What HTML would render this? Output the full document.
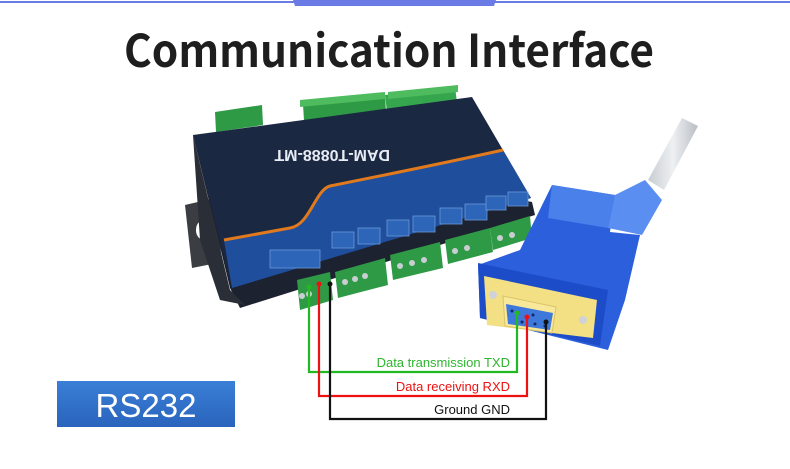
<!DOCTYPE html>
<html><head><meta charset="utf-8"><style>
html,body{margin:0;padding:0;background:#fff;}
svg{display:block}
</style></head><body>
<svg width="790" height="469" viewBox="0 0 790 469" xmlns="http://www.w3.org/2000/svg">
<defs>
<linearGradient id="rs" x1="0" y1="0" x2="0" y2="1"><stop offset="0" stop-color="#3a7fd6"/><stop offset="1" stop-color="#2a64bd"/></linearGradient>
<linearGradient id="cab" x1="0" y1="0" x2="1" y2="0"><stop offset="0" stop-color="#c8cdd3"/><stop offset="0.5" stop-color="#eef0f2"/><stop offset="1" stop-color="#b9bec4"/></linearGradient>
</defs>
<rect width="790" height="469" fill="#fff"/>
<rect x="0" y="1" width="790" height="2" fill="#6b7be6"/>
<polygon points="293,0 496,0 494,6 295,6" fill="#6b7be6"/>
<text x="389" y="67" text-anchor="middle" font-family="'Noto Sans CJK SC','Liberation Sans',sans-serif" font-weight="bold" font-size="45" fill="#1e1e1e" textLength="530" lengthAdjust="spacingAndGlyphs">Communication Interface</text>

<polygon points="185,205 215,198 222,262 192,268" fill="#3a3d42"/>
<ellipse cx="202" cy="230" rx="6" ry="9" fill="#fff"/>
<polygon points="193,135 230,288 240,308 535,215 532,202" fill="#1d2230"/>
<polygon points="193,135 230,290 245,305 220,300 200,240" fill="#2a2e36"/>
<polygon points="215,112 262,105 263,125 216,132" fill="#2e9a45"/>
<polygon points="303,104 385,95 386,112 304,121" fill="#2e9a45"/>
<polygon points="385,95 455,86 457,103 387,112" fill="#36a64e"/>
<polygon points="388,92 458,85 458,92 388,99" fill="#4dbb5e"/>
<polygon points="300,100 385,92 385,99 300,107" fill="#4dbb5e"/>
<polygon points="193,135 472,97 531,198 232,288" fill="#1b2842"/>
<path d="M232,288 L531,198 L503,150 C450,162 380,176 330,186 C315,190 310,225 290,228 L224,240 Z" fill="#1f4f9c"/>
<path d="M224,240 L290,228 C310,225 315,190 330,186 C380,176 450,162 503,150" fill="none" stroke="#e07a1c" stroke-width="3"/>
<g fill="#2d65b8" stroke="#6d98d8" stroke-width="0.8">
<rect x="332" y="232" width="22" height="16"/><rect x="358" y="228" width="22" height="16"/>
<rect x="387" y="220" width="22" height="16"/><rect x="413" y="216" width="22" height="16"/>
<rect x="440" y="208" width="22" height="16"/><rect x="465" y="204" width="22" height="16"/>
<rect x="486" y="196" width="20" height="14"/><rect x="508" y="192" width="20" height="14"/>
<rect x="270" y="250" width="50" height="18"/>
</g>
<text x="300" y="162" font-family="'Liberation Sans',sans-serif" font-weight="bold" font-size="16" fill="#e8ecf4" transform="rotate(180 345 156)">DAM-T0888-MT</text>
<polygon points="297,280 330,272 333,300 300,310" fill="#2f9a46"/>
<polygon points="335,272 385,258 388,285 338,298" fill="#2f9a46"/>
<polygon points="390,255 440,242 443,268 393,280" fill="#2f9a46"/>
<polygon points="445,240 490,228 493,252 448,264" fill="#2f9a46"/>
<polygon points="490,228 530,216 532,238 493,250" fill="#2f9a46"/>
<g fill="#c9ced2"><circle cx="302" cy="296" r="3"/><circle cx="309" cy="294" r="3"/><circle cx="345" cy="282" r="3"/><circle cx="355" cy="279" r="3"/><circle cx="365" cy="276" r="3"/><circle cx="400" cy="266" r="3"/><circle cx="412" cy="263" r="3"/><circle cx="424" cy="260" r="3"/><circle cx="455" cy="251" r="3"/><circle cx="467" cy="248" r="3"/><circle cx="500" cy="238" r="3"/><circle cx="512" cy="235" r="3"/></g>

<polygon points="648,180 682,118 698,126 664,190" fill="url(#cab)"/>
<polygon points="520,250 552,185 615,195 610,232 640,235 625,300 608,350 480,318 478,265" fill="#2b5fdc"/>
<polygon points="552,185 615,195 608,228 548,218" fill="#4a80ea"/>
<polygon points="615,195 645,180 662,200 642,235 608,228" fill="#5a8ef0"/>
<polygon points="478,263 608,290 600,346 480,318" fill="#1d4cc8"/>
<polygon points="484,276 597,300 593,338 487,325" fill="#f3df84"/>
<polygon points="503,296 556,307 552,333 505,326" fill="#f8e89a" stroke="#d9c46a"/>
<polygon points="506,304 553,313 550,330 508,324" fill="#3f78db"/>
<circle cx="493" cy="295" r="4" fill="#cfd3d8"/><circle cx="583" cy="320" r="4" fill="#cfd3d8"/>
<g fill="#0f2a66"><circle cx="512" cy="311" r="1.5"/><circle cx="533" cy="315" r="1.5"/><circle cx="522" cy="322" r="1.5"/><circle cx="535" cy="324" r="1.5"/><circle cx="545" cy="326" r="1.5"/></g>

<g fill="none" stroke-width="2.2">
<polyline points="309,287 309,372 517,372 517,313" stroke="#22b822"/>
<polyline points="319,284 319,396 527,396 527,317" stroke="#ee1111"/>
<polyline points="330,284 330,419 546,419 546,322" stroke="#111"/>
</g>
<circle cx="309" cy="287" r="2.5" fill="#22b822"/><circle cx="319" cy="284" r="2.5" fill="#ee1111"/><circle cx="330" cy="284" r="2.5" fill="#111"/>
<circle cx="517" cy="313" r="2.5" fill="#22b822"/><circle cx="527" cy="317" r="2.5" fill="#ee1111"/><circle cx="546" cy="322" r="2.5" fill="#111"/>
<g font-family="'Liberation Sans',sans-serif" font-size="13" text-anchor="end">
<text x="510" y="367" fill="#2fb52f">Data transmission TXD</text>
<text x="510" y="391" fill="#ee1111">Data receiving RXD</text>
<text x="510" y="414" fill="#111">Ground GND</text>
</g>

<rect x="57" y="381" width="178" height="46" fill="url(#rs)"/>
<text x="146" y="417" text-anchor="middle" font-family="'Liberation Sans',sans-serif" font-size="33" fill="#fff">RS232</text>
</svg>
</body></html>
